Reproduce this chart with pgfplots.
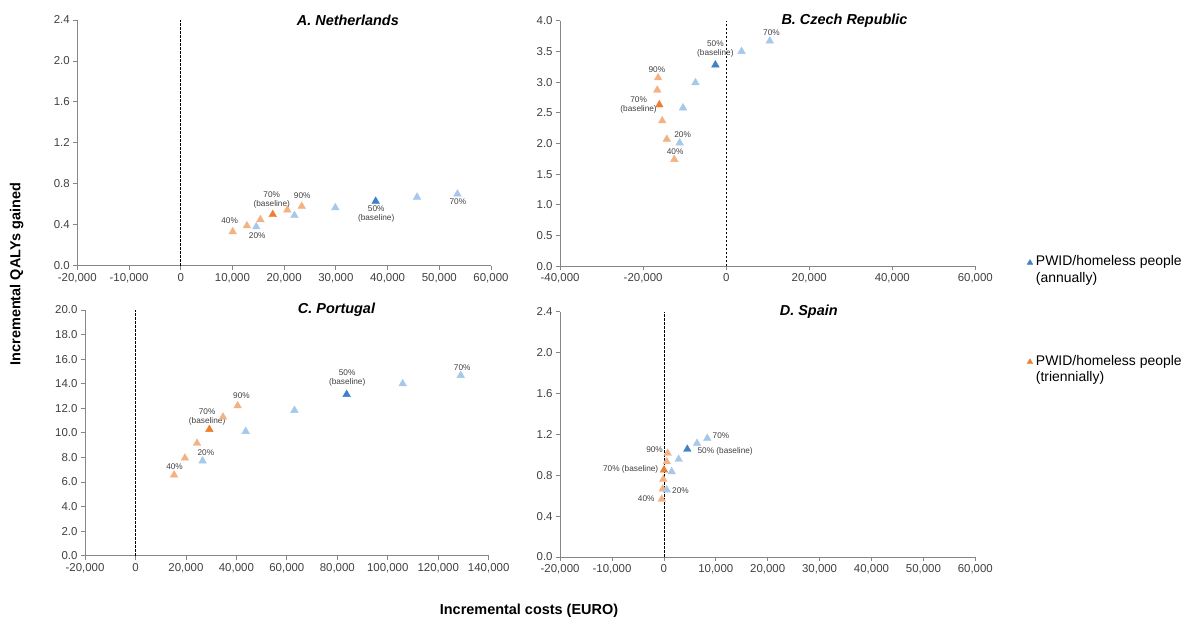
\documentclass[border=0pt]{standalone}
\usepackage{pgfplots}
\pgfplotsset{compat=1.18}
\usepackage{fontspec}
\setmainfont{Liberation Sans}
\definecolor{lorange}{HTML}{F4B183}
\definecolor{dorange}{HTML}{ED7D31}
\definecolor{lblue}{HTML}{A6C8EA}
\definecolor{dblue}{HTML}{3F80C6}
\definecolor{axisgray}{HTML}{868686}
\definecolor{txt}{HTML}{404040}
\tikzset{
  lbl/.style={font=\fontsize{8.3}{9.3}\selectfont, text=txt, align=center, inner sep=0pt},
  ttl/.style={font=\bfseries\itshape\fontsize{14.5}{17}\selectfont},
}
\pgfplotsset{
  cea/.style={
    scale only axis,
    axis lines=left,
    axis line style={draw=axisgray, line width=0.8pt, -},
    tick style={draw=axisgray, line width=0.8pt},
    tick align=outside,
    major tick length=4bp,
    ticklabel style={font=\fontsize{11.5}{13}\selectfont, text=txt},
    scaled x ticks=false,
    scaled y ticks=false,
    xticklabel style={/pgf/number format/.cd, fixed, 1000 sep={,}, assume math mode=true},
    yticklabel style={/pgf/number format/.cd, fixed, fixed zerofill, precision=1, assume math mode=true},
    clip=false,
  },
  lo/.style={only marks, mark=triangle*, mark size=4.4bp, forget plot, mark options={fill=lorange, draw=lorange}},
  do/.style={only marks, mark=triangle*, mark size=4.4bp, forget plot, mark options={fill=dorange, draw=dorange}},
  lb/.style={only marks, mark=triangle*, mark size=4.4bp, forget plot, mark options={fill=lblue, draw=lblue}},
  db/.style={only marks, mark=triangle*, mark size=4.4bp, forget plot, mark options={fill=dblue, draw=dblue}},
  zl/.style={black, line width=0.8pt, dash pattern=on 2.5bp off 1.5bp, forget plot},
  legimg/.style={legend image code/.code={\path[draw=none, fill=none] (-4bp,-8.5bp) rectangle (2bp,8.5bp);\draw[##1, mark size=3.2bp] plot coordinates {(-2bp,7.2bp)};}},
}
\begin{document}
\begin{tikzpicture}
\useasboundingbox (0,0) rectangle (1189bp,620bp);
% ---------------- A. Netherlands
\begin{axis}[cea, at={(77.3bp,354.3bp)}, anchor=south west, width=413.7bp, height=245.7bp,
  xmin=-20000, xmax=60000, ymin=0, ymax=2.4,
  xtick={-20000,-10000,0,10000,20000,30000,40000,50000,60000},
  ytick={0,0.4,0.8,1.2,1.6,2.0,2.4}]
\addplot[zl] coordinates {(0,0) (0,2.4)};
\addplot[lo] coordinates {(10050,0.332) (12800,0.39) (15400,0.45) (20600,0.544) (23400,0.58)};
\addplot[lb] coordinates {(14600,0.38) (22000,0.49) (29900,0.567) (45700,0.67) (53500,0.70)};
\addplot[do] coordinates {(17800,0.50)};
\addplot[db] coordinates {(37700,0.63)};
\node[lbl] at (axis cs:9460,0.443) {40\%};
\node[lbl] at (axis cs:14800,0.29) {20\%};
\node[lbl] at (axis cs:17600,0.643) {70\%\\(baseline)};
\node[lbl] at (axis cs:23500,0.684) {90\%};
\node[lbl] at (axis cs:37800,0.505) {50\%\\(baseline)};
\node[lbl] at (axis cs:53600,0.622) {70\%};
\node[ttl] at (rel axis cs:0.654,1) {A. Netherlands};
\end{axis}
% ---------------- B. Czech Republic
\begin{axis}[cea, at={(560.1bp,353.7bp)}, anchor=south west, width=415.2bp, height=245.6bp,
  xmin=-40000, xmax=60000, ymin=0, ymax=4,
  xtick={-40000,-20000,0,20000,40000,60000},
  ytick={0,0.5,1,1.5,2,2.5,3,3.5,4},
  legimg,
  legend style={at={(1.1245,0.0513)}, anchor=north west, draw=none, fill=none, inner sep=0pt,
    font=\fontsize{14}{16.5}\selectfont, cells={anchor=west, align=left}}]
\addlegendimage{only marks, mark=triangle*, mark options={fill=dblue, draw=dblue}}
\addlegendentry{PWID/homeless people\\(annually)}
\addplot[zl] coordinates {(0,0) (0,4)};
\addplot[lo] coordinates {(-16400,3.07) (-16600,2.87) (-15400,2.37) (-14300,2.07) (-12500,1.74)};
\addplot[lb] coordinates {(-11200,2.01) (-10400,2.58) (-7400,2.99) (3700,3.50) (10500,3.67)};
\addplot[do] coordinates {(-16100,2.63)};
\addplot[db] coordinates {(-2600,3.28)};
\node[lbl] at (axis cs:10900,3.80) {70\%};
\node[lbl] at (axis cs:-2600,3.54) {50\%\\(baseline)};
\node[lbl] at (axis cs:-16700,3.21) {90\%};
\node[lbl] at (axis cs:-21100,2.63) {70\%\\(baseline)};
\node[lbl] at (axis cs:-10500,2.14) {20\%};
\node[lbl] at (axis cs:-12300,1.87) {40\%};
\node[ttl] at (rel axis cs:0.685,1) {B. Czech Republic};
\end{axis}
% ---------------- C. Portugal
\begin{axis}[cea, at={(85bp,64.3bp)}, anchor=south west, width=403.7bp, height=245.7bp,
  xmin=-20000, xmax=140000, ymin=0, ymax=20,
  xtick={-20000,0,20000,40000,60000,80000,100000,120000,140000},
  ytick={0,2,4,6,8,10,12,14,16,18,20}]
\addplot[zl] coordinates {(0,0) (0,20)};
\addplot[lo] coordinates {(15300,6.57) (19600,7.95) (24400,9.15) (34700,11.29) (40500,12.21)};
\addplot[lb] coordinates {(26600,7.71) (43700,10.12) (63000,11.83) (105900,14.0) (128900,14.68)};
\addplot[do] coordinates {(29300,10.28)};
\addplot[db] coordinates {(83700,13.13)};
\node[lbl] at (axis cs:129500,15.33) {70\%};
\node[lbl] at (axis cs:83900,14.44) {50\%\\(baseline)};
\node[lbl] at (axis cs:42000,13.0) {90\%};
\node[lbl] at (axis cs:28400,11.29) {70\%\\(baseline)};
\node[lbl] at (axis cs:27900,8.39) {20\%};
\node[lbl] at (axis cs:15500,7.25) {40\%};
\node[ttl] at (rel axis cs:0.623,1) {C. Portugal};
\end{axis}
% ---------------- D. Spain
\begin{axis}[cea, at={(560.1bp,63bp)}, anchor=south west, width=415.2bp, height=245.3bp,
  xmin=-20000, xmax=60000, ymin=0, ymax=2.4,
  xtick={-20000,-10000,0,10000,20000,30000,40000,50000,60000},
  ytick={0,0.4,0.8,1.2,1.6,2.0,2.4},
  legimg,
  legend style={at={(1.1245,0.832)}, anchor=north west, draw=none, fill=none, inner sep=0pt,
    font=\fontsize{14}{16.5}\selectfont, cells={anchor=west, align=left}}]
\addlegendimage{only marks, mark=triangle*, mark options={fill=dorange, draw=dorange}}
\addlegendentry{PWID/homeless people\\(triennially)}
\addplot[zl] coordinates {(0,0) (0,2.4)};
\addplot[lo] coordinates {(-420,0.565) (-230,0.665) (-120,0.760) (540,0.932) (730,1.015)};
\addplot[lb] coordinates {(540,0.656) (1500,0.835) (2850,0.956) (6380,1.112) (8360,1.161)};
\addplot[do] coordinates {(20,0.851)};
\addplot[db] coordinates {(4510,1.054)};
\node[lbl] at (axis cs:11000,1.187) {70\%};
\node[lbl] at (axis cs:11800,1.034) {50\% (baseline)};
\node[lbl] at (axis cs:-1800,1.047) {90\%};
\node[lbl] at (axis cs:-6400,0.858) {70\% (baseline)};
\node[lbl] at (axis cs:3200,0.652) {20\%};
\node[lbl] at (axis cs:-3400,0.567) {40\%};
\node[ttl] at (rel axis cs:0.599,1) {D. Spain};
\end{axis}
% ---------------- axis titles
\node[rotate=90, font=\bfseries\fontsize{14.5}{17}\selectfont] at (16.7bp,346bp) {Incremental QALYs gained};
\node[font=\bfseries\fontsize{14.5}{17}\selectfont] at (529bp,8.8bp) {Incremental costs (EURO)};
\end{tikzpicture}
\end{document}
